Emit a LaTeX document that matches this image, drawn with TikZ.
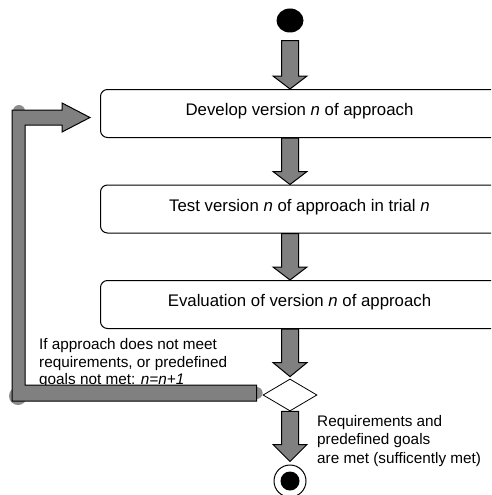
\documentclass[tikz,border=0pt]{standalone}
\usepackage{fontspec}
\setmainfont{Liberation Sans}
\usetikzlibrary{calc,shapes.geometric}

\definecolor{arrowgray}{RGB}{128,128,128}
\definecolor{dotgray}{RGB}{140,140,140}

\tikzset{
  stepbox/.style={draw=black, line width=1pt, rounded corners=7pt, fill=white,
    minimum width=398pt, minimum height=48pt, inner sep=0pt,
    text height=10pt, text depth=6pt,
    font=\fontsize{16.8}{20}\selectfont},
  fatarrow/.style={draw=black, line width=1pt, fill=arrowgray, line join=miter},
  note/.style={anchor=base west, inner sep=0pt, font=\fontsize{15.3}{18}\selectfont},
  joint/.style={fill=dotgray, draw=none},
}

% broad gray arrow pointing down: #1 start point, #2 tip, #3 head length
\newcommand\fatarrow[3]{%
  \draw[fatarrow] let \p1=(#1), \p2=(#2) in
    (\x2-8.5pt,\y1) -- (\x2+8.5pt,\y1) -- (\x2+8.5pt,\y2+#3) -- (\x2+17pt,\y2+#3)
    -- (\x2,\y2) -- (\x2-17pt,\y2+#3) -- (\x2-8.5pt,\y2+#3) -- cycle;}

\begin{document}
\begin{tikzpicture}[x=1pt,y=-1pt]
  \clip (0,0) rectangle (491,495);
  \fill[white] (0,0) rectangle (491,495);

  % activity nodes
  \node[ellipse, fill=black, inner sep=0pt, minimum width=27pt, minimum height=24pt] (start) at (290,20.5) {};
  \node[stepbox] (dev)  at (299.5,113.5) {Develop version \textit{n} of approach};
  \node[stepbox] (test) at (299.5,209)   {Test version \textit{n} of approach in trial \textit{n}};
  \node[stepbox] (eval) at (299.5,304.5) {Evaluation of version \textit{n} of approach};
  \node[diamond, draw=black, line width=0.8pt, fill=white, inner sep=0pt,
        minimum width=54pt, minimum height=32pt] (dec) at (290,395) {};
  \node[circle, draw=black, line width=1pt, fill=white, inner sep=0pt, minimum size=32pt] (stop) at (290,481) {};
  \fill[black] (stop.center) circle (9.5pt);

  % downward flow
  \fatarrow{$(start.south)+(0,8)$}{dev.north -| start}{13pt}
  \fatarrow{dev.south -| start}{test.north -| start}{13pt}
  \fatarrow{test.south -| start}{eval.north -| start}{13pt}
  \fatarrow{eval.south -| start}{$(dec.north)+(0,-2)$}{14pt}
  \fatarrow{dec.south}{$(stop.north)+(0,-3)$}{17pt}

  % guard labels
  \node[note] (fail1) at (39,349) {If approach does not meet};
  \node[note] (fail2) at (39,367) {requirements, or predefined};
  \node[note] (fail3) at (39,384) {goals not met: \textit{n=n+1}};
  \node[note] (ok1) at (317,426) {Requirements and};
  \node[note] (ok2) at (317,444.5) {predefined goals};
  \node[note] (ok3) at (317,463) {are met (sufficently met)};

  % loop back from the decision to the first step
  \coordinate (lb) at ($(dec.west)+(-6,-2)$);
  \coordinate (lt) at ($(dev.west)+(-10,4)$);
  \fill[joint] (lb) circle (6pt);
  \fill[joint] (18,396) circle (9pt);
  \fill[joint] (19,111) circle (6pt);
  \draw[fatarrow] let \p1=(lb), \p2=(lt) in
    (\x1,\y1+8pt) -- (25pt,\y1+8pt) -- (25pt,\y2-7.5pt) -- (\x2-28pt,\y2-7.5pt)
    -- (\x2-28pt,\y2-14.5pt) -- (\x2,\y2) -- (\x2-28pt,\y2+14.5pt)
    -- (\x2-28pt,\y2+7.5pt) -- (12pt,\y2+7.5pt) -- (12pt,\y1-8pt) -- (\x1,\y1-8pt) -- cycle;
\end{tikzpicture}
\end{document}
